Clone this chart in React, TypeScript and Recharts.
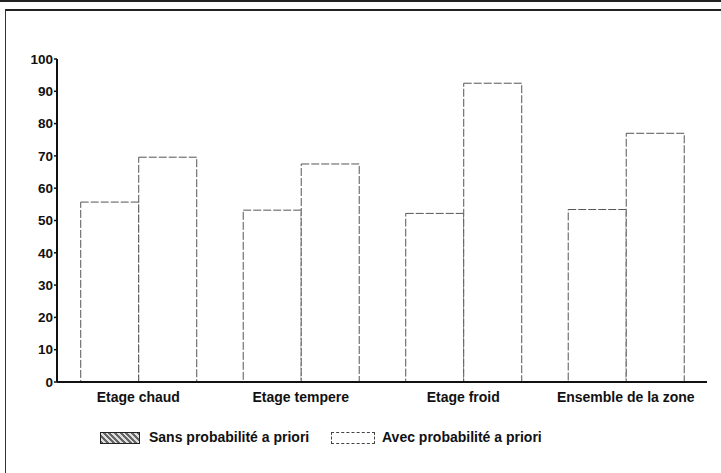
import React from 'react';
import { BarChart, Bar, XAxis, YAxis } from 'recharts';

const categories = ['Etage chaud', 'Etage tempere', 'Etage froid', 'Ensemble de la zone'];
const sansValues = [55.7, 53.2, 52.2, 53.4];
const avecValues = [69.6, 67.5, 92.5, 77];
const yTicks = [0, 10, 20, 30, 40, 50, 60, 70, 80, 90, 100];

const chartData = categories.map((name, i) => ({
  name,
  sans: sansValues[i],
  avec: avecValues[i],
}));

const font = 'Arial, "Liberation Sans", Helvetica, sans-serif';

const App = () => {
  return (
    <div style={{ position: 'absolute', left: 0, top: 0, width: 721, height: 473, background: '#fff', fontFamily: font }}>
      {/* scanned frame lines */}
      <div style={{ position: 'absolute', left: 0, top: 0, width: 721, height: 2, background: '#222' }} />
      <div style={{ position: 'absolute', left: 5, top: 9, width: 716, height: 2, background: '#222' }} />
      <div style={{ position: 'absolute', left: 5, top: 9, width: 1, height: 464, background: '#333' }} />

      <BarChart
        width={721}
        height={473}
        data={chartData}
        margin={{ top: 59, right: 14, left: 0, bottom: 61 }}
        barCategoryGap="14.6%"
        barGap={0}
        style={{ position: 'absolute', left: 0, top: 0 }}
      >
        <XAxis
          dataKey="name"
          height={30}
          tickLine={false}
          axisLine={{ stroke: '#111', strokeWidth: 2 }}
          tick={{ fill: '#111', fontSize: 14, fontWeight: 700, fontFamily: font }}
          tickMargin={4}
        />
        <YAxis
          width={57}
          domain={[0, 100]}
          ticks={yTicks}
          interval={0}
          tickSize={3}
          tickMargin={1}
          axisLine={{ stroke: '#111', strokeWidth: 2 }}
          tickLine={{ stroke: '#111', strokeWidth: 1.5 }}
          tick={{ fill: '#111', fontSize: 13.5, fontWeight: 700, fontFamily: font }}
        />
        <Bar dataKey="sans" fill="#fff" stroke="#555" strokeWidth={1} strokeDasharray="8 2" isAnimationActive={false} />
        <Bar dataKey="avec" fill="#fff" stroke="#555" strokeWidth={1} strokeDasharray="8 2" isAnimationActive={false} />
      </BarChart>

      {/* legend */}
      <div style={{ position: 'absolute', left: 100, top: 432, width: 38, height: 10, border: '1px solid #222', background: 'repeating-linear-gradient(45deg, #666 0 2px, #ddd 2px 4px)' }} />
      <div style={{ position: 'absolute', left: 149, top: 429, fontSize: 14, fontWeight: 700, color: '#111', whiteSpace: 'nowrap' }}>
        Sans probabilité a priori
      </div>
      <div style={{ position: 'absolute', left: 331, top: 432, width: 42, height: 10, border: '1px dashed #444', background: '#fff' }} />
      <div style={{ position: 'absolute', left: 382, top: 429, fontSize: 14, fontWeight: 700, color: '#111', whiteSpace: 'nowrap' }}>
        Avec probabilité a priori
      </div>
    </div>
  );
};

export default App;
